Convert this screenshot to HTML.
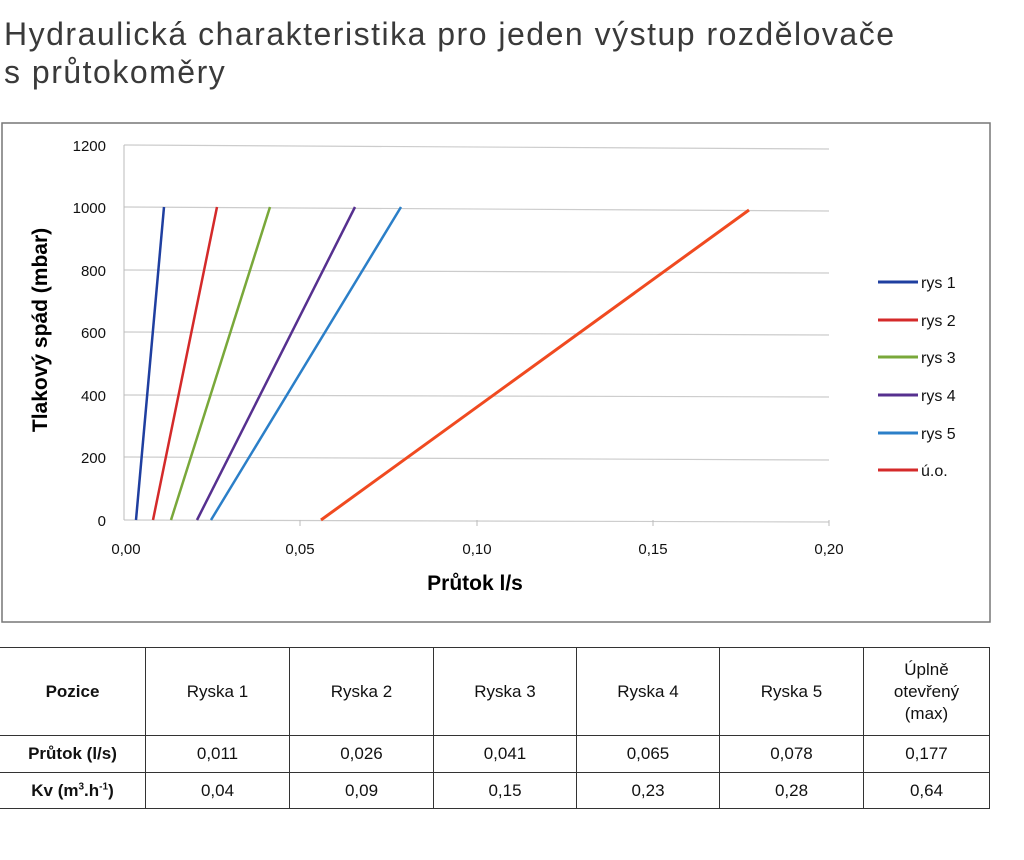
<!DOCTYPE html>
<html><head><meta charset="utf-8"><style>
body{margin:0;background:#fff;width:1024px;height:860px;overflow:hidden;font-family:"Liberation Sans",sans-serif}
.t{position:absolute;left:4px;font-size:32px;letter-spacing:1.5px;color:#3a3a3a;line-height:36px}
table{position:absolute;left:0;top:647px;border-collapse:collapse;font-size:17px;color:#111}
td{border:1.5px solid #333;text-align:center;padding:0}
</style></head><body>
<div class="t" style="top:16px">Hydraulická charakteristika pro jeden výstup rozdělovače</div>
<div class="t" style="top:54px">s průtokoměry</div>
<svg width="1024" height="640" style="position:absolute;left:0;top:0" font-family="Liberation Sans, sans-serif">
<rect x="2" y="123" width="988" height="499" fill="none" stroke="#777" stroke-width="1.5"/>
<g stroke="#ccc" stroke-width="1.2">
<line x1="124" y1="145" x2="829" y2="149"/><line x1="124" y1="207" x2="829" y2="211"/>
<line x1="124" y1="270" x2="829" y2="273"/><line x1="124" y1="332" x2="829" y2="335"/>
<line x1="124" y1="395" x2="829" y2="397"/><line x1="124" y1="457" x2="829" y2="460"/>
<line x1="124" y1="520" x2="829" y2="522"/></g>
<line x1="124" y1="145" x2="124" y2="520" stroke="#bbb"/>
<g stroke="#bbb"><line x1="300" y1="520" x2="300" y2="526"/><line x1="477" y1="520" x2="477" y2="526"/><line x1="653" y1="520" x2="653" y2="526"/><line x1="829" y1="520" x2="829" y2="526"/></g>
<g font-size="15" text-anchor="end" fill="#111"><text x="106" y="151">1200</text><text x="106" y="213">1000</text><text x="106" y="276">800</text><text x="106" y="338">600</text><text x="106" y="401">400</text><text x="106" y="463">200</text><text x="106" y="526">0</text></g>
<g font-size="15" text-anchor="middle" fill="#111"><text x="126" y="554">0,00</text><text x="300" y="554">0,05</text><text x="477" y="554">0,10</text><text x="653" y="554">0,15</text><text x="829" y="554">0,20</text></g>
<text x="475" y="590" font-size="21" font-weight="bold" text-anchor="middle">Průtok l/s</text>
<text transform="translate(47,330) rotate(-90)" font-size="21" font-weight="bold" text-anchor="middle">Tlakový spád (mbar)</text>
<g stroke-width="2.5">
<line x1="136" y1="520" x2="164" y2="207" stroke="#1f3fa0"/>
<line x1="153" y1="520" x2="217" y2="207" stroke="#d42a2a"/>
<line x1="171" y1="520" x2="270" y2="207" stroke="#79a83a"/>
<line x1="197" y1="520" x2="355" y2="207" stroke="#56308f"/>
<line x1="211" y1="520" x2="401" y2="207" stroke="#2b7fc8"/>
<line x1="321" y1="520" x2="749" y2="210" stroke="#f04a20" stroke-width="3"/>
</g>
<g stroke-width="3"><line x1="878" y1="282" x2="918" y2="282" stroke="#1f3fa0"/><line x1="878" y1="320" x2="918" y2="320" stroke="#d42a2a"/><line x1="878" y1="357" x2="918" y2="357" stroke="#79a83a"/><line x1="878" y1="395" x2="918" y2="395" stroke="#56308f"/><line x1="878" y1="433" x2="918" y2="433" stroke="#2b7fc8"/><line x1="878" y1="470" x2="918" y2="470" stroke="#d42a2a"/></g>
<g font-size="16" fill="#111"><text x="921" y="288">rys 1</text><text x="921" y="326">rys 2</text><text x="921" y="363">rys 3</text><text x="921" y="401">rys 4</text><text x="921" y="439">rys 5</text><text x="921" y="476">ú.o.</text></g>
</svg>
<table>
<tr style="height:88px"><td style="width:145px;border-left:none;font-weight:bold">Pozice</td><td style="width:143px">Ryska 1</td><td style="width:143px">Ryska 2</td><td style="width:142px">Ryska 3</td><td style="width:142px">Ryska 4</td><td style="width:143px">Ryska 5</td><td style="width:125px;line-height:22px">Úplně<br>otevřený<br>(max)</td></tr>
<tr style="height:37px"><td style="border-left:none;font-weight:bold">Průtok (l/s)</td><td>0,011</td><td>0,026</td><td>0,041</td><td>0,065</td><td>0,078</td><td>0,177</td></tr>
<tr style="height:36px"><td style="border-left:none;font-weight:bold">Kv (m<sup style="font-size:10px">3</sup>.h<sup style="font-size:10px">-1</sup>)</td><td>0,04</td><td>0,09</td><td>0,15</td><td>0,23</td><td>0,28</td><td>0,64</td></tr>
</table>
</body></html>
